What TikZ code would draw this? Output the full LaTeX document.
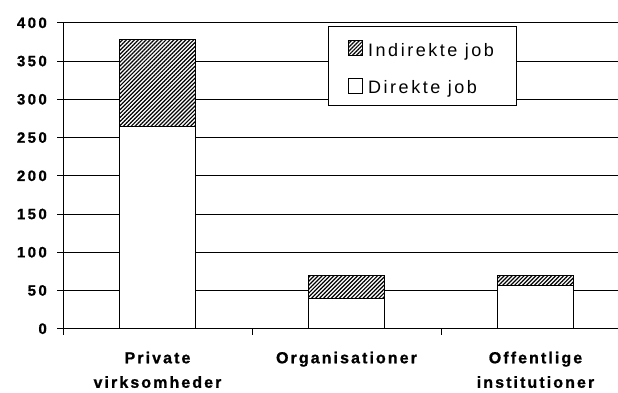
\documentclass[tikz,border=0pt]{standalone}
\usepackage{fontspec}
\setmainfont{Liberation Sans}
\newfontfamily\valfont[LetterSpace=16,FakeBold=1]{Liberation Sans Bold}
\newfontfamily\catfont[LetterSpace=13,FakeBold=1]{Liberation Sans Bold}
\newfontfamily\keyfont[LetterSpace=14]{Liberation Sans}
\usetikzlibrary{patterns.meta}

\begin{document}
\begin{tikzpicture}[x=1pt,y=1pt,
    grid/.style={draw=black,line width=0.9pt},
    bar/.style={draw=black,line width=0.9pt,fill=white},
    hatchbar/.style={draw=black,line width=0.9pt,preaction={fill=white},pattern={Lines[angle=45,distance=2.8pt,line width=1.2pt]}},
    vallabel/.style={anchor=east,inner sep=0pt,font=\valfont\fontsize{15}{18}\selectfont},
    catlabel/.style={anchor=north,inner sep=0pt,align=center,font=\catfont\fontsize{16}{24.5}\selectfont},
    keytext/.style={anchor=base west,inner sep=0pt,font=\keyfont\fontsize{18}{20}\selectfont}]
    \useasboundingbox (0,0) rectangle (618,392);
    \begin{scope}[shift={(0,63.3)},y=0.7646pt]
    % gridlines
    \draw[grid] (57,50) -- (618,50);
    \draw[grid] (57,100) -- (618,100);
    \draw[grid] (57,150) -- (618,150);
    \draw[grid] (57,200) -- (618,200);
    \draw[grid] (57,250) -- (618,250);
    \draw[grid] (57,300) -- (618,300);
    \draw[grid] (57,350) -- (618,350);
    \draw[grid] (57,400) -- (618,400);
    % axes
    \draw[grid] (57,0) -- (618,0);
    \draw[grid] (63,-7.8) -- (63,400);
    \draw[grid] (252,0) -- (252,-7.8);
    \draw[grid] (441,0) -- (441,-7.8);
    % bars
    \draw[bar] (119.5,0) rectangle (195,264);
    \draw[hatchbar] (119.5,264) rectangle (195,378);
    \draw[bar] (308.5,0) rectangle (384,40);
    \draw[hatchbar] (308.5,40) rectangle (384,70);
    \draw[bar] (497.5,0) rectangle (573,56);
    \draw[hatchbar] (497.5,56) rectangle (573,70);
    % value labels
    \node[vallabel] (v0) at (47,0) {0};
    \node[vallabel] (v50) at (47,50) {50};
    \node[vallabel] (v100) at (47,100) {100};
    \node[vallabel] (v150) at (47,150) {150};
    \node[vallabel] (v200) at (47,200) {200};
    \node[vallabel] (v250) at (47,250) {250};
    \node[vallabel] (v300) at (47,300) {300};
    \node[vallabel] (v350) at (47,350) {350};
    \node[vallabel] (v400) at (47,400) {400};
    % category labels
    \node[catlabel] (private) at (157.5,-29.8) {Private\\virksomheder};
    \node[catlabel] (organisationer) at (346.5,-29.8) {Organisationer};
    \node[catlabel] (offentlige) at (535.5,-29.8) {Offentlige\\institutioner};
    \end{scope}
    % legend
    \draw[line width=0.9pt,fill=white] (328.7,287) rectangle (516.7,365.3);
    \draw[hatchbar] (348.3,336.7) rectangle (362.7,351.3);
    \draw[bar] (348.3,298.7) rectangle (362.7,313.3);
    \node[keytext] (indirekte) at (368,335.3) {Indirekte job};
    \node[keytext] (direkte) at (368,298.7) {Direkte job};
\end{tikzpicture}
\end{document}
